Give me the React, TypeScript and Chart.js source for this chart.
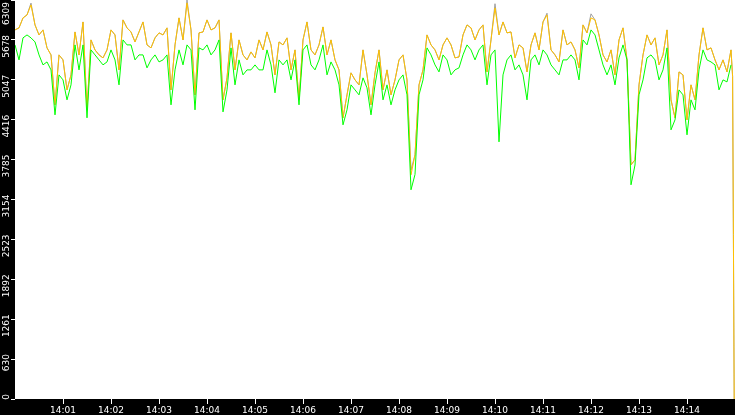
import { useEffect, useRef } from 'react';
import { Chart, registerables } from 'chart.js';

Chart.register(...registerables);

// one sample every 5 seconds starting at 14:00:00
const STEP_SECONDS = 5;

const xTickSeconds = [60, 120, 180, 240, 300, 360, 420, 480, 540, 600, 660, 720, 780, 840];
const xTickLabels = [
   '14:01', '14:02', '14:03', '14:04', '14:05', '14:06', '14:07',
   '14:08', '14:09', '14:10', '14:11', '14:12', '14:13', '14:14',
];

const yTickValues = [0, 630.9, 1261.8, 1892.7, 2523.6, 3154.5, 3785.4, 4416.3, 5047.2, 5678.1, 6309];
const yTickLabels = ['0', '630', '1261', '1892', '2523', '3154', '3785', '4416', '5047', '5678', '6309'];

const orangeValues = [
   5836, 5868, 6026, 6073, 6231, 5915, 5757, 5836, 5552, 5441,
   4651, 5441, 5362, 4888, 5125, 5804, 5441, 5962, 4572, 5678,
   5520, 5441, 5394, 5520, 5836, 5757, 5204, 5994, 5868, 5804,
   5646, 5804, 5962, 5599, 5552, 5710, 5789, 5757, 5868, 4888,
   5599, 6026, 5678, 6263, 5836, 4809, 5789, 5804, 5994, 5836,
   5868, 5994, 4730, 5078, 5789, 5204, 5678, 5441, 5362, 5488,
   5394, 5678, 5520, 5804, 5599, 5125, 5646, 5599, 5710, 5204,
   5520, 4730, 5678, 5962, 5520, 5441, 5599, 5883, 5441, 5678,
   5362, 5204, 4446, 4809, 5157, 5046, 4967, 5520, 5125, 4651,
   5157, 5520, 4888, 5204, 4809, 5046, 5362, 5441, 5046, 3545,
   3861, 4967, 5204, 5757, 5599, 5520, 5362, 5599, 5710, 5599,
   5394, 5409, 5757, 5915, 5868, 5678, 5836, 5915, 5172, 5678,
   6184, 5757, 5962, 5789, 5804, 5394, 5599, 5552, 5172, 5599,
   5789, 5520, 5962, 6073, 5520, 5441, 5330, 5836, 5599, 5646,
   5520, 5236, 5915, 5789, 6026, 5994, 5757, 5441, 5330, 5520,
   5125, 5678, 5868, 5362, 3703, 3782, 4967, 5441, 5757, 5599,
   5710, 5283, 5441, 5836, 4730, 4446, 5172, 5125, 4414, 4967,
   4730, 5441, 5868, 5520, 5552, 5362, 5204, 5362, 5172, 5520,
];

const greenValues = [
   5599, 5362, 5710, 5757, 5710, 5646, 5441, 5283, 5330, 5204,
   4493, 5125, 5046, 4730, 4967, 5599, 5204, 5599, 4446, 5520,
   5441, 5362, 5283, 5330, 5520, 5362, 4967, 5678, 5599, 5599,
   5362, 5441, 5441, 5236, 5362, 5441, 5330, 5362, 5441, 4651,
   5204, 5520, 5283, 5599, 5520, 4572, 5552, 5520, 5599, 5441,
   5520, 5678, 4540, 4888, 5552, 4967, 5362, 5125, 5204, 5204,
   5283, 5204, 5204, 5520, 5283, 4841, 5362, 5283, 5362, 5046,
   5362, 4651, 5520, 5599, 5283, 5204, 5362, 5599, 5125, 5330,
   5204, 4967, 4335, 4572, 4967, 4888, 4809, 5078, 4920, 4493,
   4967, 5330, 4730, 4967, 4651, 4888, 5046, 5125, 4809, 3308,
   3550, 4809, 5046, 5552, 5441, 5283, 5172, 5441, 5362, 5125,
   5204, 5236, 5441, 5599, 5520, 5362, 5520, 5599, 4967, 5441,
   5520, 4066, 5125, 5362, 5441, 5204, 5283, 5125, 4730, 5362,
   5441, 5283, 5520, 5441, 5283, 5204, 5125, 5362, 5362, 5441,
   5362, 5046, 5678, 5599, 5836, 5757, 5520, 5283, 5125, 5283,
   4967, 5394, 5599, 5362, 3387, 3700, 4809, 5046, 5394, 5441,
   5362, 5046, 5204, 5552, 4256, 4414, 4888, 4809, 4177, 4730,
   4572, 5204, 5520, 5362, 5330, 5283, 4888, 5046, 5014, 5283,
];

// peak series, mostly hidden behind the orange one
const grayValues = [
   5836, 5868, 6026, 6073, 6260, 5915, 5757, 5836, 5552, 5441,
   4651, 5441, 5362, 4888, 5125, 5804, 5441, 5962, 4572, 5678,
   5520, 5441, 5394, 5520, 5836, 5757, 5204, 5994, 5868, 5804,
   5646, 5804, 5962, 5599, 5552, 5710, 5789, 5757, 5868, 4888,
   5599, 6026, 5678, 6309, 5836, 4809, 5789, 5804, 5994, 5836,
   5868, 5994, 4730, 5078, 5789, 5204, 5678, 5441, 5362, 5488,
   5394, 5678, 5520, 5804, 5599, 5125, 5646, 5599, 5710, 5204,
   5520, 4730, 5678, 5962, 5520, 5441, 5599, 5883, 5441, 5678,
   5362, 5204, 4446, 4809, 5157, 5046, 4967, 5520, 5125, 4651,
   5157, 5520, 4888, 5204, 4809, 5046, 5362, 5441, 5046, 3620,
   3861, 4967, 5204, 5757, 5599, 5520, 5362, 5599, 5710, 5599,
   5394, 5409, 5757, 5915, 5868, 5678, 5836, 5915, 5172, 5678,
   6250, 5757, 5962, 5789, 5804, 5394, 5599, 5552, 5172, 5599,
   5789, 5520, 5962, 6100, 5520, 5441, 5330, 5836, 5599, 5646,
   5520, 5236, 5915, 5789, 6090, 5994, 5757, 5441, 5330, 5520,
   5125, 5678, 5868, 5362, 3703, 3782, 4967, 5441, 5757, 5599,
   5710, 5283, 5441, 5836, 4730, 4446, 5172, 5125, 4414, 4967,
   4730, 5441, 5868, 5520, 5552, 5362, 5204, 5362, 5172, 5520,
];

// last samples of the window, where the series falls off
const tailSeconds = [897, 898, 899];
const orangeTail = [5100, 2600, 0];

function toPoints(values: number[], tail: number[] = []) {
   const pts = values.map((v, i) => ({ x: i * STEP_SECONDS, y: v }));
   tail.forEach((v, i) => pts.push({ x: tailSeconds[i], y: v }));
   return pts;
}

const backdrop = {
   id: 'backdrop',
   beforeDraw(chart: Chart) {
      const { ctx, chartArea: a, width, height } = chart;
      ctx.save();
      ctx.fillStyle = '#000';
      ctx.fillRect(0, 0, width, height);
      ctx.fillStyle = '#fff';
      ctx.fillRect(a.left, a.top, a.right - a.left, a.bottom - a.top);
      ctx.restore();
   },
};

// y labels are drawn rotated, reading upwards, ending just above the tick
const yAxisLabels = {
   id: 'yAxisLabels',
   afterDraw(chart: Chart) {
      const { ctx } = chart;
      const scale = chart.scales.y;
      ctx.save();
      ctx.fillStyle = '#fff';
      ctx.font = '9px "DejaVu Sans"';
      ctx.textAlign = 'right';
      ctx.textBaseline = 'alphabetic';
      yTickValues.forEach((v, i) => {
         const py = Math.max(2, scale.getPixelForValue(v) - 5);
         ctx.save();
         ctx.translate(scale.right - 6, py);
         ctx.rotate(-Math.PI / 2);
         ctx.fillText(yTickLabels[i], 0, 0);
         ctx.restore();
      });
      ctx.restore();
   },
};

export default function App() {
   const chartRef = useRef<HTMLCanvasElement>(null);
   const chartInstance = useRef<Chart | null>(null);

   useEffect(() => {
      document.body.style.margin = '0';
      if (!chartRef.current) return;
      if (chartInstance.current) chartInstance.current.destroy();

      const line = { borderWidth: 1, pointRadius: 0, tension: 0, fill: false };

      chartInstance.current = new Chart(chartRef.current, {
         type: 'line',
         data: {
            datasets: [
               { ...line, label: 'green', data: toPoints(greenValues), borderColor: '#00ff00' },
               { ...line, label: 'orange', data: toPoints(orangeValues, orangeTail), borderColor: '#ffc000' },
               { ...line, label: 'gray', data: toPoints(grayValues, orangeTail), borderColor: '#a0a0a0' },
            ],
         },
         options: {
            responsive: true,
            maintainAspectRatio: false,
            animation: false,
            layout: { padding: 0 },
            plugins: {
               legend: { display: false },
               tooltip: { enabled: false },
            },
            scales: {
               x: {
                  type: 'linear',
                  min: 0,
                  max: 900,
                  afterBuildTicks: (s) => {
                     s.ticks = xTickSeconds.map((value) => ({ value }));
                  },
                  afterFit: (s) => {
                     s.height = 16;
                  },
                  ticks: {
                     color: '#fff',
                     font: { family: 'DejaVu Sans', size: 9 },
                     padding: 1,
                     maxRotation: 0,
                     autoSkip: false,
                     callback: (_v, i) => xTickLabels[i],
                  },
                  grid: { drawOnChartArea: false, drawTicks: true, tickLength: 5, tickColor: '#fff' },
                  border: { display: false },
               },
               y: {
                  type: 'linear',
                  min: 0,
                  max: 6309,
                  afterBuildTicks: (s) => {
                     s.ticks = yTickValues.map((value) => ({ value }));
                  },
                  afterFit: (s) => {
                     s.width = 15;
                  },
                  ticks: { display: false },
                  grid: { drawOnChartArea: false, drawTicks: true, tickLength: 4, tickColor: '#fff' },
                  border: { display: false },
               },
            },
         },
         plugins: [backdrop, yAxisLabels],
      });

      return () => {
         if (chartInstance.current) {
            chartInstance.current.destroy();
            chartInstance.current = null;
         }
      };
   }, []);

   return (
      <div style={{ width: 735, height: 415, background: '#000' }}>
         <canvas ref={chartRef} />
      </div>
   );
}
